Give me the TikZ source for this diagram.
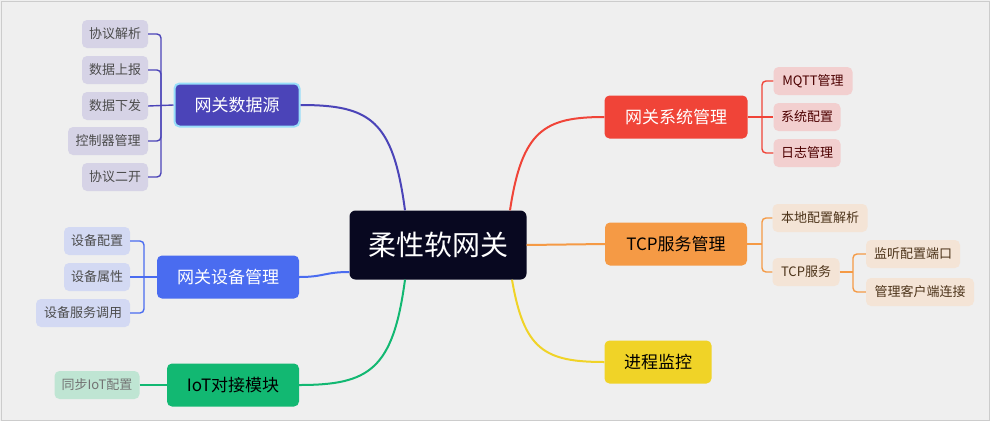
\documentclass[tikz,border=0pt]{standalone}
\usepackage{fontspec}
\setmainfont{Noto Sans CJK SC}
\definecolor{bg}{HTML}{EFEFEF}
\definecolor{cpur}{HTML}{4B44B8}
\definecolor{cblue}{HTML}{4A6CF0}
\definecolor{cgreen}{HTML}{12B872}
\definecolor{cred}{HTML}{F04438}
\definecolor{corange}{HTML}{F59A45}
\definecolor{cyel}{HTML}{F0D327}
\definecolor{lpur}{HTML}{D6D3E6}
\definecolor{lblue}{HTML}{D3D9F3}
\definecolor{lgreen}{HTML}{BFE5D3}
\definecolor{lred}{HTML}{F2CFCF}
\definecolor{lorange}{HTML}{F4E4D6}
\begin{document}
\begin{tikzpicture}[x=1pt,y=-1pt,
  main/.style={rounded corners=5pt,minimum height=43pt,inner xsep=8pt,font=\fontsize{17}{20}\selectfont,text=white},
  leaf/.style={rounded corners=5pt,minimum height=28pt,inner xsep=5pt,font=\fontsize{13}{15}\selectfont,text=black!70},
  con/.style={line width=2pt},
  br/.style={line width=1.4pt,rounded corners=4pt}]
\fill[bg] (0,0) rectangle (990,421);
\draw[gray!40] (1,1) rectangle (989,420);
% center
\node[fill={rgb,255:red,8;green,8;blue,32},rounded corners=6pt,minimum width=177pt,minimum height=69pt,text=white,font=\fontsize{28}{32}\selectfont] (c) at (438,245) {柔性软网关};
% left
\node[main,fill=cpur,minimum width=125pt,draw=cyan!40,line width=2pt] (ds) at (237,105) {网关数据源};
\node[main,fill=cblue,minimum width=142pt] (dm) at (228,277) {网关设备管理};
\node[main,fill=cgreen,minimum width=132pt,text=black] (iot) at (233,385) {IoT对接模块};
% right
\node[main,fill=cred,minimum width=143pt] (sm) at (676,117) {网关系统管理};
\node[main,fill=corange,minimum width=142pt,text=black] (tcp) at (676,244) {TCP服务管理};
\node[main,fill=cyel,minimum width=107pt,text=black] (pm) at (658,362) {进程监控};
% leaves
\node[leaf,fill=lpur,minimum width=66pt] (a1) at (115,34) {协议解析};
\node[leaf,fill=lpur,minimum width=66pt] (a2) at (115,70) {数据上报};
\node[leaf,fill=lpur,minimum width=66pt] (a3) at (115,106) {数据下发};
\node[leaf,fill=lpur,minimum width=80pt] (a4) at (108,141) {控制器管理};
\node[leaf,fill=lpur,minimum width=66pt] (a5) at (115,177) {协议二开};
\node[leaf,fill=lblue,minimum width=66pt] (b1) at (97,241) {设备配置};
\node[leaf,fill=lblue,minimum width=66pt] (b2) at (97,277) {设备属性};
\node[leaf,fill=lblue,minimum width=94pt] (b3) at (83,313) {设备服务调用};
\node[leaf,fill=lgreen,minimum width=85pt,text=black!55] (g1) at (97,385) {同步IoT配置};
\node[leaf,fill=lred,minimum width=79pt,text=black!70!red] (r1) at (813,81) {MQTT管理};
\node[leaf,fill=lred,minimum width=67pt,text=black!70!red] (r2) at (807,117) {系统配置};
\node[leaf,fill=lred,minimum width=67pt,text=black!70!red] (r3) at (807,153) {日志管理};
\node[leaf,fill=lorange,minimum width=95pt,text=black!60!brown] (o1) at (820,218) {本地配置解析};
\node[leaf,fill=lorange,minimum width=67pt,text=black!60!brown] (o2) at (806,272) {TCP服务};
\node[leaf,fill=lorange,minimum width=94pt,text=black!60!brown] (o3) at (913,254) {监听配置端口};
\node[leaf,fill=lorange,minimum width=108pt,text=black!60!brown] (o4) at (920,292) {管理客户端连接};
% main connectors
\draw[con,cpur] ([xshift=-33pt]c.north) .. controls +(-12,-90) and +(70,0) .. (ds.east);
\draw[con,cblue] ([yshift=-27pt]c.west) .. controls +(-25,0) and +(25,0) .. (dm.east);
\draw[con,cgreen] ([xshift=-33pt]c.south) .. controls +(-12,90) and +(70,0) .. (iot.east);
\draw[con,cred] ([xshift=72pt]c.north) .. controls +(12,-80) and +(-60,0) .. (sm.west);
\draw[con,corange] (c.east) -- (tcp.west);
\draw[con,cyel] ([xshift=74pt]c.south) .. controls +(12,70) and +(-60,0) .. (pm.west);
% brackets
\coordinate (ja) at (161,106);
\draw[br,cpur] (a1.east) -| (ja) |- (a5.east);
\draw[br,cpur] (a2.east) -| (ja); \draw[br,cpur] (a4.east) -| (ja);
\draw[br,cpur] (a3.east) -- (ds.west);
\coordinate (jb) at (144,277);
\draw[br,cblue] (b1.east) -| (jb) |- (b3.east);
\draw[br,cblue] (b2.east) -- (dm.west);
\draw[br,cgreen] (g1.east) -- (iot.west);
\coordinate (jr) at (762,117);
\draw[br,cred] (r1.west) -| (jr) |- (r3.west);
\draw[br,cred] (sm.east) -- (r2.west);
\coordinate (jo) at (762,244);
\draw[br,corange] (o1.west) -| (jo) |- (o2.west);
\draw[br,corange] (tcp.east) -- (jo);
\coordinate (jt) at (853,272);
\draw[br,corange] (o3.west) -| (jt) |- (o4.west);
\draw[br,corange] (o2.east) -- (jt);
\end{tikzpicture}
\end{document}
